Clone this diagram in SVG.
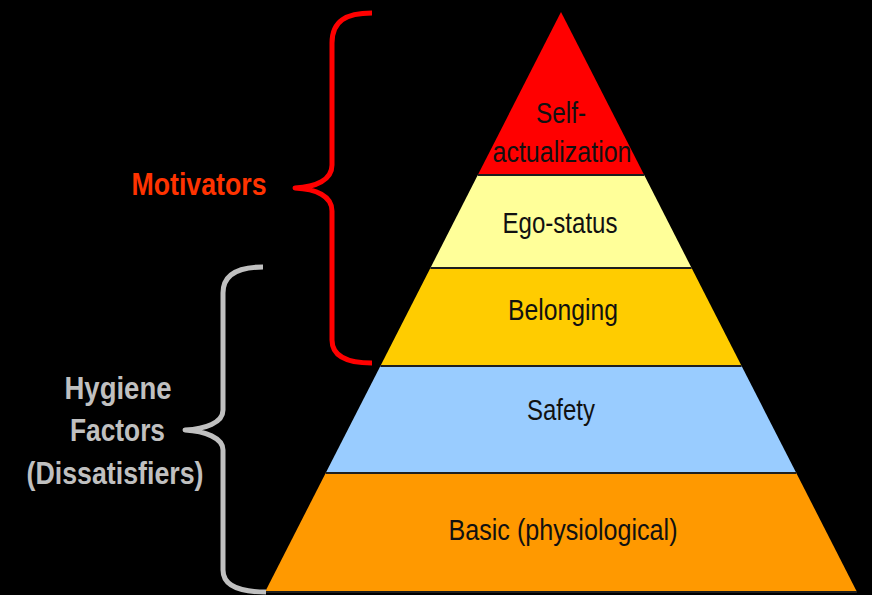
<svg xmlns="http://www.w3.org/2000/svg" width="872" height="595" viewBox="0 0 872 595">
  <style>
    .lvl { font-family: "Liberation Sans", Arial, sans-serif; font-size: 29px; fill: #111; text-anchor: middle; }
    .sep { stroke: #1e1e1e; stroke-width: 2; }
    .side { font-family: "Liberation Sans", Arial, sans-serif; font-weight: bold; font-size: 32px; text-anchor: middle; }
    .brace { fill: none; stroke-width: 5; stroke-linecap: butt; stroke-linejoin: round; }
  </style>
  <rect width="872" height="595" fill="#000"/>

  <!-- pyramid levels, top to bottom -->
  <g id="self-actualization">
    <polygon points="561,12 644.2,175 477.8,175" fill="#ff0000"/>
    <text class="lvl" x="561" y="123" textLength="50" lengthAdjust="spacingAndGlyphs">Self-</text>
    <text class="lvl" x="562" y="162" textLength="139" lengthAdjust="spacingAndGlyphs">actualization</text>
  </g>
  <g id="ego-status">
    <polygon points="477.8,175 644.2,175 691.6,268 430.4,268" fill="#ffff99"/>
    <text class="lvl" x="560" y="233" textLength="115" lengthAdjust="spacingAndGlyphs">Ego-status</text>
  </g>
  <g id="belonging">
    <polygon points="430.4,268 691.6,268 741.6,366 380.4,366" fill="#ffcc00"/>
    <text class="lvl" x="563" y="320" textLength="110" lengthAdjust="spacingAndGlyphs">Belonging</text>
  </g>
  <g id="safety">
    <polygon points="380.4,366 741.6,366 796.3,473 325.7,473" fill="#99ccff"/>
    <text class="lvl" x="561" y="420" textLength="68" lengthAdjust="spacingAndGlyphs">Safety</text>
  </g>
  <g id="basic">
    <polygon points="325.7,473 796.3,473 857,592 265,592" fill="#ff9900"/>
    <text class="lvl" x="563" y="540" font-size="26" textLength="229" lengthAdjust="spacingAndGlyphs">Basic (physiological)</text>
  </g>

  <!-- level separators -->
  <g id="separators">
    <line class="sep" x1="477.8" y1="175" x2="644.2" y2="175"/>
    <line class="sep" x1="430.4" y1="268" x2="691.6" y2="268"/>
    <line class="sep" x1="380.4" y1="366" x2="741.6" y2="366"/>
    <line class="sep" x1="325.7" y1="473" x2="796.3" y2="473"/>
    <line class="sep" x1="265" y1="592" x2="857" y2="592"/>
  </g>

  <!-- grouping braces -->
  <g id="connectors">
    <path class="brace" stroke="#ff0000" d="M372 13 C346 13 332 21 332 43 L332 165 C332 180 316 187 295 188 C316 189 332 196 332 211 L332 340 C332 356 346 363 372 363"/>
    <path class="brace" stroke="#c0c0c0" stroke-width="4.5" d="M263 267 C238 267 223 275 223 293 L223 410 C223 423 205 429 185 430 C205 431 223 438 223 450 L223 570 C223 585 238 592 266 592"/>
  </g>

  <g id="motivators">
    <text class="side" x="199" y="195" fill="#ff3300" textLength="135" lengthAdjust="spacingAndGlyphs">Motivators</text>
  </g>
  <g id="hygiene-factors">
    <text class="side" fill="#c0c0c0" x="118" y="399" textLength="107" lengthAdjust="spacingAndGlyphs">Hygiene</text>
    <text class="side" fill="#c0c0c0" x="117.5" y="441" textLength="95" lengthAdjust="spacingAndGlyphs">Factors</text>
    <text class="side" fill="#c0c0c0" x="115" y="484" textLength="177" lengthAdjust="spacingAndGlyphs">(Dissatisfiers)</text>
  </g>
</svg>
